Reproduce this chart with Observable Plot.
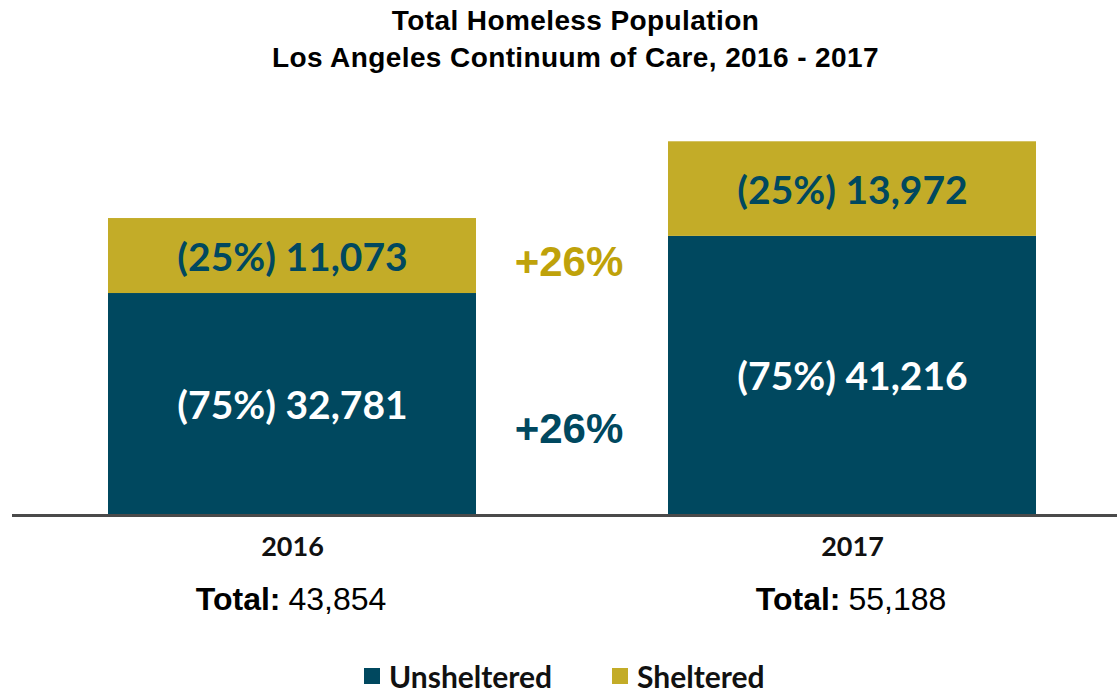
<!DOCTYPE html>
<html>
<head>
<meta charset="utf-8">
<script src="https://cdn.jsdelivr.net/npm/d3@7"></script>
<script src="https://cdn.jsdelivr.net/npm/@observablehq/plot@0.6"></script>
<style>
  html, body { margin: 0; padding: 0; background: #fff; }
  body { width: 1117px; height: 692px; overflow: hidden; }
  .title { margin-top: 2px; text-align: center; font-family: "Liberation Sans", Arial, sans-serif; font-weight: bold; font-size: 28px; line-height: 37px; letter-spacing: 0.4px; color: #000; padding-left: 34px; height: 78px; }
  #chart svg { display: block; }
  .legend { display: flex; justify-content: flex-start; align-items: center; height: 32px; font-family: Lato, "Open Sans", sans-serif; font-weight: bold; font-size: 30px; color: #111; }
  .legend .item { display: flex; align-items: center; position: absolute; }
  .legend .sw { width: 16px; height: 16px; margin-right: 9px; }
</style>
</head>
<body>
<div class="title">Total Homeless Population<br>Los Angeles Continuum of Care, 2016 - 2017</div>
<div id="chart"></div>
<div class="legend" id="legend"></div>
<script>
// ---- data ----
const years = ["2016", "2017"];
const categories = ["Unsheltered", "Sheltered"];
const unsheltered = [32781, 41216];
const sheltered = [11073, 13972];
const unshelteredPct = ["75%", "75%"];
const shelteredPct = ["25%", "25%"];
const totals = [43854, 55188];
const changeLabels = ["+26%", "+26%"]; // Unsheltered, Sheltered
const colors = ["#00485F", "#C3AC28"];
const changeColors = ["#00485F", "#BFA20A"];

// ---- table built from arrays ----
const rows = [];
years.forEach((y, i) => {
  rows.push({year: y, category: categories[0], value: unsheltered[i], pct: unshelteredPct[i]});
  rows.push({year: y, category: categories[1], value: sheltered[i], pct: shelteredPct[i]});
});
const fmt = d3.format(",");
const totalRows = years.map((y, i) => ({year: y, total: totals[i]}));
// change labels placed at the 2016 segment middles
const unshChange = [{label: changeLabels[0], y: unsheltered[0] / 2}];
const shelChange = [{label: changeLabels[1], y: unsheltered[0] + sheltered[0] / 2}];

const calibri = "Lato, 'Open Sans', sans-serif";
const arial = "'Liberation Sans', Arial, sans-serif";

const chart = Plot.plot({
  width: 1117,
  height: 580,
  marginLeft: 12,
  marginRight: 0,
  marginTop: 0,
  marginBottom: 145,
  x: {domain: years, range: [108, 1036], paddingInner: 0.343, paddingOuter: 0, axis: null},
  y: {domain: [0, 60000], range: [435, 28.7], axis: null},
  color: {domain: categories, range: colors},
  marks: [
    Plot.barY(rows, {x: "year", y: "value", fill: "category", inset: 0}),
    Plot.ruleY([0], {stroke: "#4a4a4a", strokeWidth: 3}),
    Plot.text(rows, Plot.stackY({
      x: "year", y: "value", z: "category",
      text: d => `(${d.pct}) ${fmt(d.value)}`,
      fill: d => d.category === "Unsheltered" ? "#ffffff" : colors[0],
      fontFamily: calibri, fontWeight: "bold", fontSize: 39, dy: 2
    })),
    Plot.text(unshChange, {
      y: "y", text: "label", fill: changeColors[0], dy: 25, dx: 4,
      fontFamily: arial, fontWeight: "bold", fontSize: 42
    }),
    Plot.text(shelChange, {
      y: "y", text: "label", fill: changeColors[1], dy: 7, dx: 4,
      fontFamily: arial, fontWeight: "bold", fontSize: 42
    }),
    Plot.text(years, {
      x: d => d, text: d => d, frameAnchor: "bottom", dy: 40,
      fontFamily: calibri, fontWeight: "bold", fontSize: 27, fill: "#111"
    }),
    Plot.text(totalRows, {
      x: "year", text: () => "Total:", frameAnchor: "bottom", dy: 94, dx: -12,
      textAnchor: "end", fontFamily: arial, fontWeight: "bold", fontSize: 32, fill: "#000"
    }),
    Plot.text(totalRows, {
      x: "year", text: d => fmt(d.total), frameAnchor: "bottom", dy: 94, dx: -4,
      textAnchor: "start", fontFamily: arial, fontSize: 32, fill: "#000"
    })
  ]
});
document.getElementById("chart").appendChild(chart);

// legend
const legend = document.getElementById("legend");
legend.style.position = "relative";
const legendX = [364, 612];
categories.forEach((c, i) => {
  const item = document.createElement("div");
  item.className = "item";
  item.style.left = legendX[i] + "px";
  const sw = document.createElement("span");
  sw.className = "sw";
  sw.style.background = colors[i];
  const t = document.createElement("span");
  t.textContent = c;
  item.appendChild(sw);
  item.appendChild(t);
  legend.appendChild(item);
});
</script>
</body>
</html>
